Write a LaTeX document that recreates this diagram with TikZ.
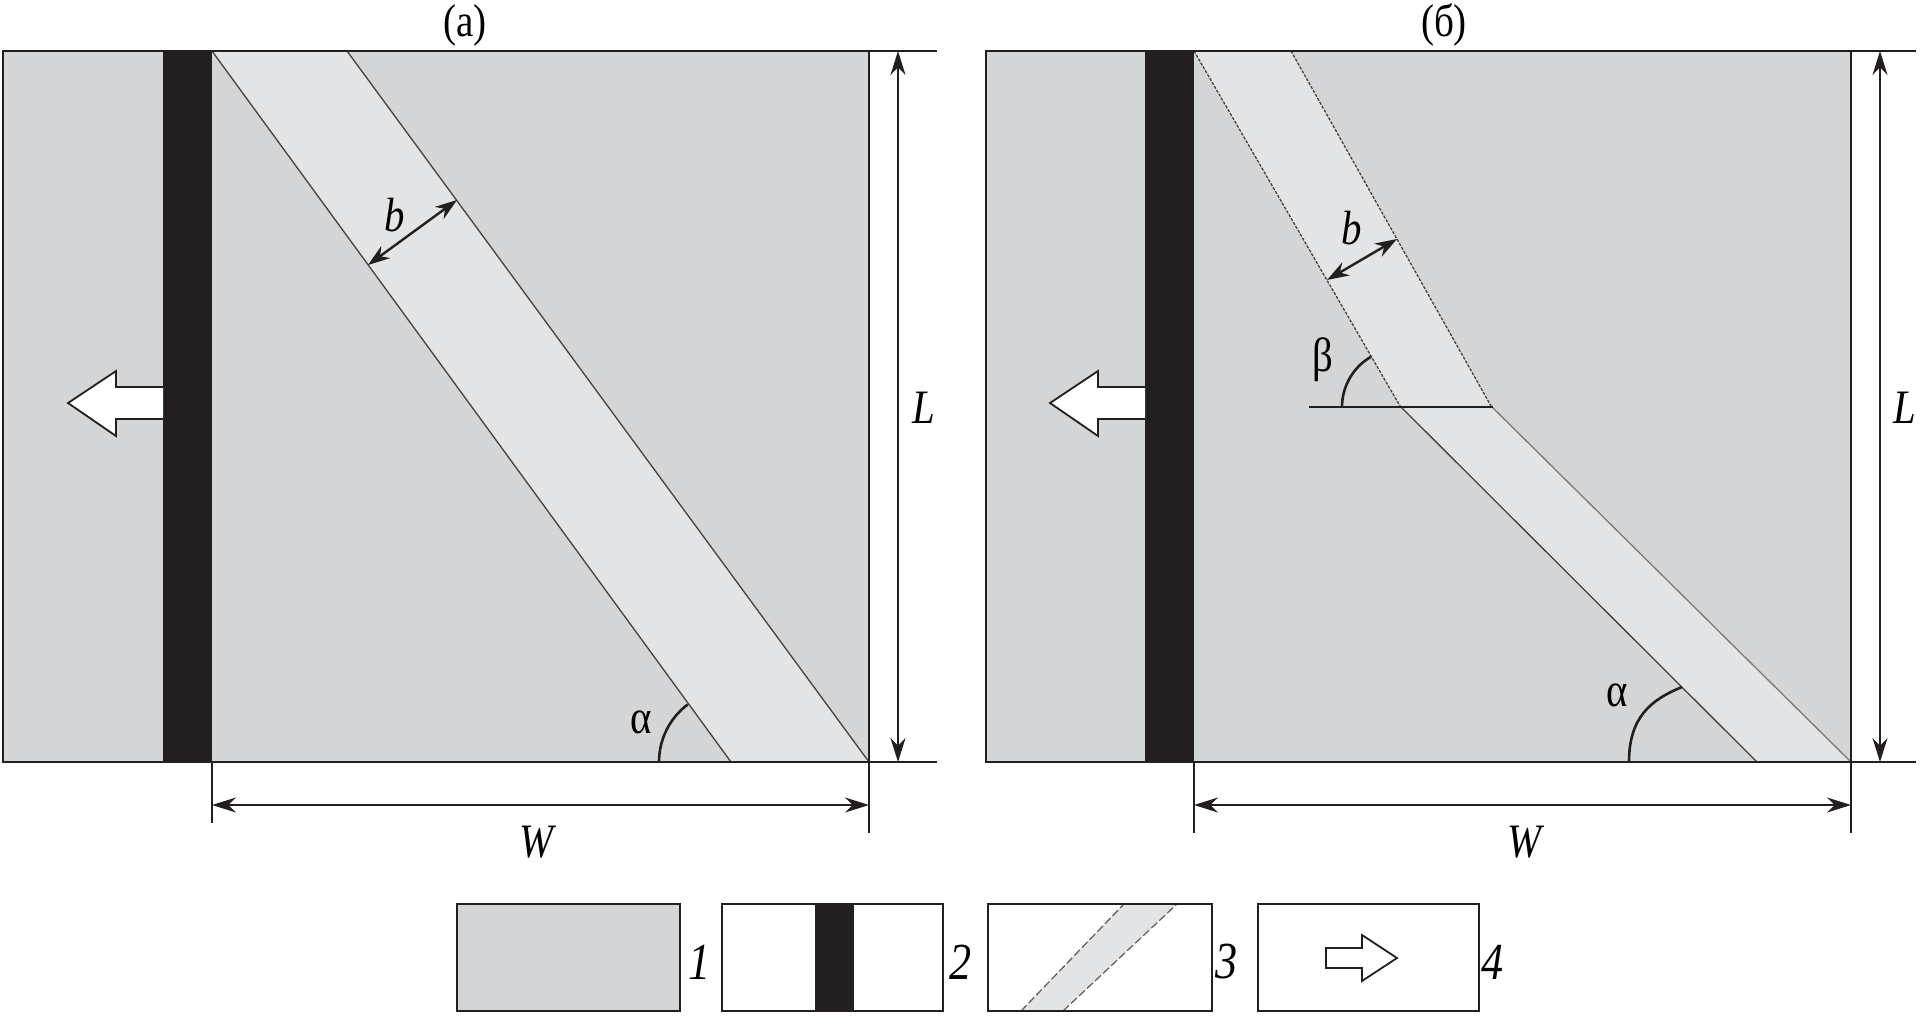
\documentclass[tikz,border=0pt]{standalone}
\usepackage{fontspec}
\setmainfont{Liberation Serif}[FakeStretch=0.85]
\usetikzlibrary{arrows.meta}
\definecolor{plate}{HTML}{D4D5D7}
\definecolor{bandc}{HTML}{E3E4E6}
\definecolor{ink}{HTML}{231F20}
\tikzset{
 frame/.style={draw=ink, line width=2.8pt},
 bandedge/.style={draw=ink!85, line width=1.3pt},
 dimline/.style={draw=ink, line width=2.2pt, {Stealth[length=24pt,width=15pt]}-{Stealth[length=24pt,width=15pt]}},
 bdim/.style={draw=ink, line width=2.4pt, {Stealth[length=22pt,width=15pt]}-{Stealth[length=22pt,width=15pt]}},
 extline/.style={draw=ink, line width=2.2pt},
 anglearc/.style={draw=ink, line width=2.6pt},
 lbl/.style={font=\fontsize{48}{52}\selectfont\itshape, inner sep=0pt},
 klbl/.style={font=\fontsize{52}{56}\selectfont\itshape, inner sep=0pt},
 glbl/.style={font=\fontsize{48}{52}\selectfont, inner sep=0pt},
 ttl/.style={font=\fontsize{46}{50}\selectfont, inner sep=0pt},
 blockarrow/.style={fill=white, draw=ink, line width=1.8pt, line join=miter},
}
\begin{document}
\begin{tikzpicture}[x=1pt,y=-1pt]
\useasboundingbox (0,0) rectangle (1920,1020);
% ---------------- panel (a)
\fill[plate] (3,51) rectangle (869,762);
\fill[bandc] (212,51) -- (347,51) -- (869,762) -- (731,762) -- cycle;
\draw[bandedge] (212,51) -- (731,762);
\draw[bandedge] (347,51) -- (869,762);
\fill[ink] (163,51) rectangle (212,762);
\draw[frame] (3,51) rectangle (869,762);
\draw[blockarrow] (163,387) -- (116,387) -- (116,371) -- (68,403) -- (116,436) -- (116,419) -- (163,419);
\coordinate (aTR) at (869,51);
\coordinate (aBR) at (869,762);
\coordinate (aBL) at (212,762);
\coordinate (aTe) at (937,51);
\coordinate (aBe) at (937,762);
\coordinate (aWl) at (212,823);
\coordinate (aWr) at (869,833);
\draw[extline] (aTR) -- (aTe);
\draw[extline] (aBR) -- (aBe);
\draw[extline] (aBL) -- (aWl);
\draw[extline] (aBR) -- (aWr);
\coordinate (aLt) at (898,51);
\coordinate (aLb) at (898,762);
\draw[dimline] (aLt) -- (aLb);
\coordinate (aWa) at (212,805);
\coordinate (aWb) at (869,805);
\draw[dimline] (aWa) -- (aWb);
\coordinate (ab1) at (368,265);
\coordinate (ab2) at (457,200);
\draw[bdim] (ab1) -- (ab2);
\draw[anglearc] (659,762) arc[start angle=180, end angle=233, radius=72];
\node[lbl] (aL) at (924,408) {L};
\node[lbl] (aW) at (536,842) {W};
\node[lbl] (ab) at (395,215) {b};
\node[glbl] (aalpha) at (641,722) {α};
\node[ttl] (ta) at (465,25) {(a)};
% ---------------- panel (b)
\fill[plate] (986,51) rectangle (1851,762);
\fill[bandc] (1194,51) -- (1291,51) -- (1491,406) -- (1400,406) -- cycle;
\fill[bandc] (1400,406) -- (1491,406) -- (1851,762) -- (1757,762) -- cycle;
\draw[bandedge, dash pattern=on 3pt off 1.5pt] (1194,51) -- (1400,406);
\draw[bandedge, dash pattern=on 3pt off 1.5pt] (1291,51) -- (1491,406);
\draw[bandedge] (1400,406) -- (1757,762);
\draw[bandedge, draw=ink!60] (1491,406) -- (1851,762);
\draw[draw=ink, line width=2.8pt] (1309,407) -- (1493,407);
\fill[ink] (1145,51) rectangle (1194,762);
\draw[frame] (986,51) rectangle (1851,762);
\draw[blockarrow] (1145,387) -- (1098,387) -- (1098,371) -- (1050,403) -- (1098,436) -- (1098,419) -- (1145,419);
\coordinate (bTR) at (1851,51);
\coordinate (bBR) at (1851,762);
\coordinate (bBL) at (1194,762);
\coordinate (bTe) at (1916,51);
\coordinate (bBe) at (1916,762);
\coordinate (bWl) at (1194,833);
\coordinate (bWr) at (1851,833);
\draw[extline] (bTR) -- (bTe);
\draw[extline] (bBR) -- (bBe);
\draw[extline] (bBL) -- (bWl);
\draw[extline] (bBR) -- (bWr);
\coordinate (bLt) at (1880,51);
\coordinate (bLb) at (1880,762);
\draw[dimline] (bLt) -- (bLb);
\coordinate (bWa) at (1194,805);
\coordinate (bWb) at (1851,805);
\draw[dimline] (bWa) -- (bWb);
\coordinate (bb1) at (1327,280);
\coordinate (bb2) at (1397,239);
\draw[bdim] (bb1) -- (bb2);
\draw[anglearc] (1342,407) arc[start angle=180, end angle=240, radius=58];
\draw[anglearc] (1629,762) .. controls (1629,718) and (1650,700) .. (1682,687);
\node[lbl] (bL) at (1905,408) {L};
\node[lbl] (bW) at (1524,842) {W};
\node[lbl] (bb) at (1352,228) {b};
\node[glbl] (bbeta) at (1323,360) {β};
\node[glbl] (balpha) at (1617,695) {α};
\node[ttl] (tb) at (1444,25) {(б)};
% ---------------- legend
\fill[plate] (457,904) rectangle (680,1011);
\draw[frame] (457,904) rectangle (680,1011);
\node[klbl] (k1) at (700,962) {1};
\fill[white] (722,904) rectangle (943,1011);
\fill[ink] (815,904) rectangle (854,1011);
\draw[frame] (722,904) rectangle (943,1011);
\node[klbl] (k2) at (961,962) {2};
\fill[bandc] (1021,1011) -- (1063,1011) -- (1177,904) -- (1124,904) -- cycle;
\draw[bandedge, draw=ink!70, dash pattern=on 8pt off 3pt] (1021,1011) -- (1124,904);
\draw[bandedge, draw=ink!70, dash pattern=on 8pt off 3pt] (1063,1011) -- (1177,904);
\draw[frame] (988,904) rectangle (1212,1011);
\node[klbl] (k3) at (1227,962) {3};
\draw[frame] (1258,904) rectangle (1479,1011);
\draw[blockarrow] (1326,948) -- (1362,948) -- (1362,935) -- (1397,958) -- (1362,981) -- (1362,968) -- (1326,968) -- cycle;
\node[klbl] (k4) at (1493,962) {4};
\end{tikzpicture}
\end{document}
